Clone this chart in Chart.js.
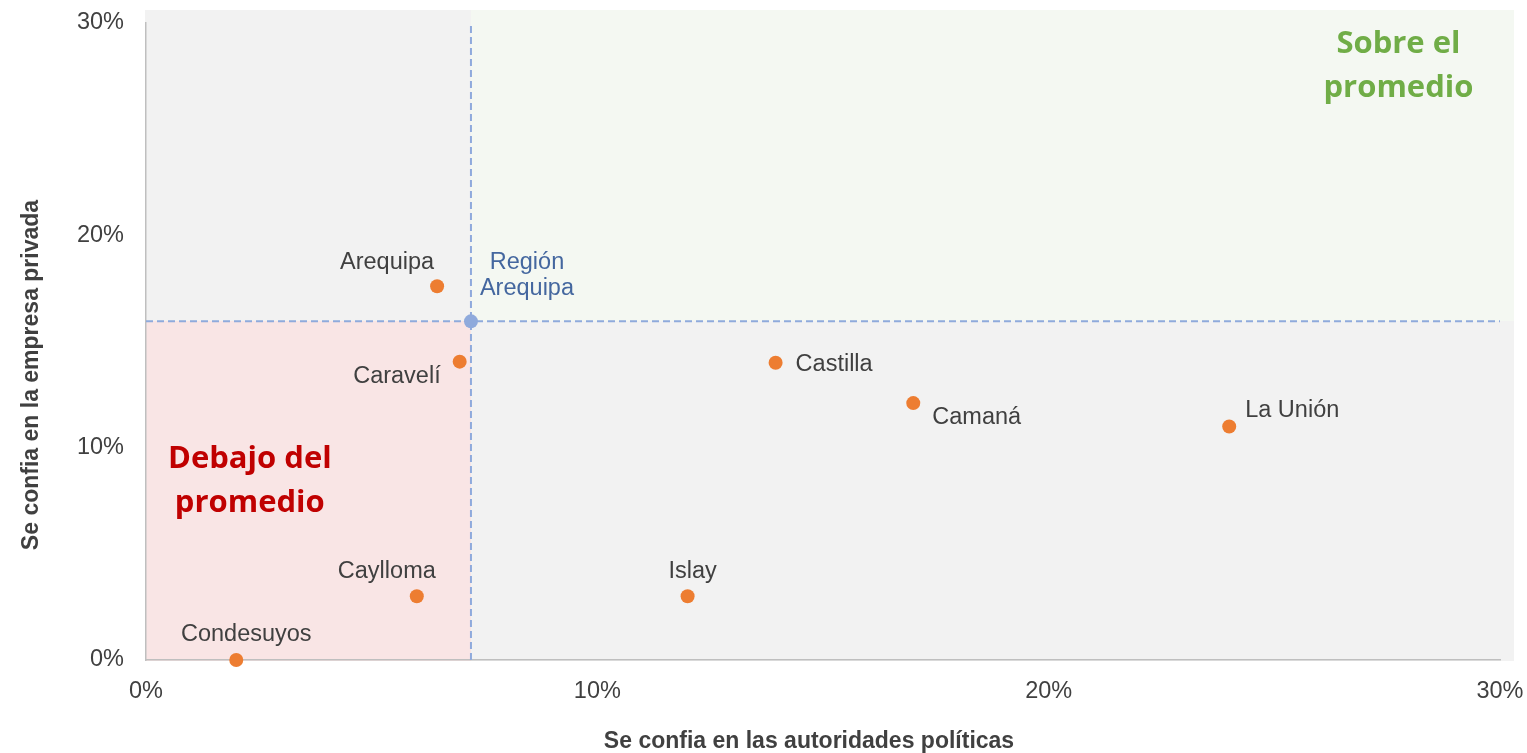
<!DOCTYPE html>
<html>
<head>
<meta charset="utf-8">
<title>Confianza en autoridades y empresa privada</title>
<script src="https://cdn.jsdelivr.net/npm/chart.js@4.4.1/dist/chart.umd.min.js"></script>
<style>
  html, body { margin: 0; padding: 0; background: #ffffff; }
  canvas { display: block; }
</style>
</head>
<body>
<canvas id="chart" width="1527" height="753"></canvas>
<script>
// Provinces of the Arequipa region: share that trusts political authorities (x)
// and share that trusts private companies (y), in percent.
const provinces = ['Arequipa', 'Caravelí', 'Castilla', 'Camaná', 'La Unión', 'Islay', 'Caylloma', 'Condesuyos'];
const trustAuthorities = [6.45, 6.95, 13.95, 17.0, 24.0, 12.0, 6.0, 2.0];
const trustPrivate = [17.6, 14.05, 14.0, 12.1, 11.0, 3.0, 3.0, 0.0];

// Regional average, used as the quadrant split
const regionLabel = ['Región', 'Arequipa'];
const regionAuthorities = 7.2;
const regionPrivate = 15.95;

// Axis ticks (percent)
const axisTicks = [0, 10, 20, 30];
const axisMin = 0;
const axisMax = 30;

const xTitle = 'Se confia en las autoridades políticas';
const yTitle = 'Se confia en la empresa privada';
const aboveText = ['Sobre el', 'promedio'];
const belowText = ['Debajo del', 'promedio'];

const FONT = '"Liberation Sans", Arial, Helvetica, sans-serif';
const TEXT = '#404040';
const ORANGE = '#ED7D31';
const AVG_BLUE = '#8FAADC';

// Where each province name sits relative to its dot
const labelPlacement = {
  'Arequipa':   { dx: -3,  dy: -24, align: 'right' },
  'Caravelí':   { dx: -19, dy: 15,  align: 'right' },
  'Castilla':   { dx: 20,  dy: 2,   align: 'left' },
  'Camaná':     { dx: 19,  dy: 14,  align: 'left' },
  'La Unión':   { dx: 16,  dy: -16, align: 'left' },
  'Islay':      { dx: 5,   dy: -25, align: 'center' },
  'Caylloma':   { dx: -30, dy: -25, align: 'center' },
  'Condesuyos': { dx: 10,  dy: -25, align: 'center' }
};

// Quadrant shading behind the plot, split at the regional average
const quadrantPlugin = {
  id: 'quadrants',
  beforeDraw(chart) {
    const { ctx, chartArea: a, scales: { x, y } } = chart;
    const sx = Math.round(x.getPixelForValue(regionAuthorities));
    const sy = Math.round(y.getPixelForValue(regionPrivate));
    const left = a.left - 1, right = a.right + 14, top = a.top - 13, bottom = a.bottom + 1;
    ctx.save();
    ctx.fillStyle = '#F2F2F2';
    ctx.fillRect(left, top, sx - left, sy - top);
    ctx.fillStyle = '#F4F8F2';
    ctx.fillRect(sx, top, right - sx, sy - top);
    ctx.fillStyle = '#F9E5E5';
    ctx.fillRect(left, sy, sx - left, bottom - sy);
    ctx.fillStyle = '#F2F2F2';
    ctx.fillRect(sx, sy, right - sx, bottom - sy);
    ctx.restore();
  }
};

// Province names and the regional label next to their dots
const labelPlugin = {
  id: 'pointLabels',
  afterDatasetsDraw(chart) {
    const { ctx } = chart;
    const meta = chart.getDatasetMeta(0);
    ctx.save();
    ctx.font = '23.5px ' + FONT;
    ctx.fillStyle = TEXT;
    ctx.textBaseline = 'middle';
    meta.data.forEach((pt, i) => {
      const name = provinces[i];
      const p = labelPlacement[name];
      ctx.textAlign = p.align;
      ctx.fillText(name, pt.x + p.dx, pt.y + p.dy);
    });
    const reg = chart.getDatasetMeta(1).data[0];
    ctx.fillStyle = '#44679F';
    ctx.textAlign = 'center';
    ctx.fillText(regionLabel[0], reg.x + 56, reg.y - 59);
    ctx.fillText(regionLabel[1], reg.x + 56, reg.y - 33);
    ctx.restore();
  }
};

// Quadrant captions and axis titles
const textPlugin = {
  id: 'captions',
  afterDraw(chart) {
    const { ctx, scales: { x, y } } = chart;
    ctx.save();
    ctx.textAlign = 'center';
    ctx.textBaseline = 'middle';

    ctx.font = 'bold 31px "Open Sans", sans-serif';
    ctx.fillStyle = '#70AD47';
    const ax = x.getPixelForValue(27.75), ay = y.getPixelForValue(27.95);
    ctx.fillText(aboveText[0], ax, ay - 22);
    ctx.fillText(aboveText[1], ax, ay + 22);

    ctx.fillStyle = '#C00000';
    const bx = x.getPixelForValue(2.3), by = y.getPixelForValue(8.42);
    ctx.fillText(belowText[0], bx, by - 22);
    ctx.fillText(belowText[1], bx, by + 22);

    ctx.font = 'bold 23px ' + FONT;
    ctx.fillStyle = TEXT;
    ctx.fillText(xTitle, 809, 742);
    ctx.translate(32, 375);
    ctx.rotate(-Math.PI / 2);
    ctx.fillText(yTitle, 0, 0);
    ctx.restore();
  }
};

const pct = v => v + '%';

new Chart(document.getElementById('chart'), {
  type: 'scatter',
  data: {
    datasets: [
      {
        label: 'Provincias',
        data: provinces.map((p, i) => ({ x: trustAuthorities[i], y: trustPrivate[i] })),
        backgroundColor: ORANGE,
        borderWidth: 0,
        pointRadius: 7,
        clip: false
      },
      {
        label: 'Región Arequipa',
        data: [{ x: regionAuthorities, y: regionPrivate }],
        backgroundColor: AVG_BLUE,
        borderWidth: 0,
        pointRadius: 7,
        clip: false
      },
      {
        type: 'line',
        label: 'Promedio empresa privada',
        data: [{ x: axisMin, y: regionPrivate }, { x: axisMax, y: regionPrivate }],
        borderColor: AVG_BLUE,
        borderWidth: 2,
        borderDash: [7, 4],
        pointRadius: 0,
        fill: false,
        clip: false
      },
      {
        type: 'line',
        label: 'Promedio autoridades',
        data: [{ x: regionAuthorities, y: axisMin }, { x: regionAuthorities, y: axisMax }],
        borderColor: AVG_BLUE,
        borderWidth: 2,
        borderDash: [7, 4],
        pointRadius: 0,
        fill: false,
        clip: false
      }
    ]
  },
  options: {
    responsive: false,
    animation: false,
    events: [],
    layout: { padding: { left: 0, right: 27, top: 23, bottom: 0 } },
    plugins: { legend: { display: false }, tooltip: { enabled: false } },
    scales: {
      x: {
        type: 'linear',
        min: axisMin,
        max: axisMax,
        afterBuildTicks: s => { s.ticks = axisTicks.map(v => ({ value: v })); },
        afterFit: s => { s.height = 93; s.paddingLeft = 0; s.paddingRight = 0; },
        grid: { display: false, drawTicks: false },
        border: { display: true, color: '#BFBFBF', width: 1.5 },
        ticks: { callback: pct, color: TEXT, font: { family: FONT, size: 23.5 }, padding: 17, maxRotation: 0 }
      },
      y: {
        type: 'linear',
        min: axisMin,
        max: axisMax,
        afterBuildTicks: s => { s.ticks = axisTicks.map(v => ({ value: v })); },
        afterFit: s => { s.width = 146; s.paddingTop = 0; s.paddingBottom = 0; },
        grid: { display: false, drawTicks: false },
        border: { display: true, color: '#BFBFBF', width: 1.5 },
        ticks: { callback: pct, color: TEXT, font: { family: FONT, size: 23.5 }, padding: 22 }
      }
    }
  },
  plugins: [quadrantPlugin, labelPlugin, textPlugin]
});
</script>
</body>
</html>
